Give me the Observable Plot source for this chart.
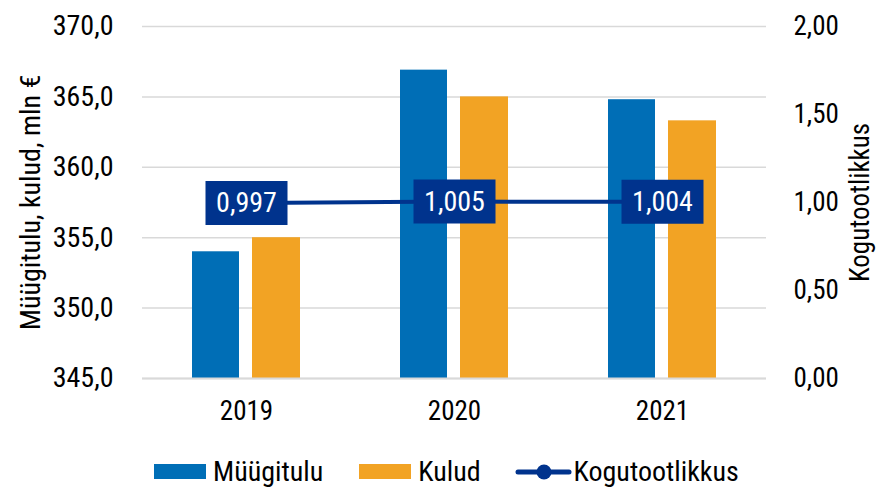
<!DOCTYPE html>
<html>
<head>
<meta charset="utf-8">
<script src="https://cdn.jsdelivr.net/npm/d3@7"></script>
<script src="https://cdn.jsdelivr.net/npm/@observablehq/plot@0.6"></script>
<style>
  html, body { margin: 0; padding: 0; background: #fff; }
  body { width: 885px; height: 489px; overflow: hidden; font-family: "Roboto Condensed", "Liberation Sans Narrow", "Roboto", sans-serif; }
  #chart svg { display: block; }
  #legend { display: flex; justify-content: flex-start; align-items: center; height: 35px; padding-top: 14px; padding-left: 154px; font-size: 28px; color: #000; }
  .item { display: flex; align-items: center; }
  .sw { width: 52px; height: 15px; margin-right: 7px; }
</style>
</head>
<body>
<div id="chart"></div>
<div id="legend"></div>
<script>
const years = ["2019", "2020", "2021"];
const myygitulu = [354.0, 366.9, 364.8];
const kulud = [355.0, 365.0, 363.3];
const kogutootlikkus = [0.997, 1.005, 1.004];
const leftTicks = [345, 350, 355, 360, 365, 370];
const rightTicks = [0, 0.5, 1.0, 1.5, 2.0];
const seriesNames = ["Müügitulu", "Kulud", "Kogutootlikkus"];
const colors = ["#006EB6", "#F2A324", "#00338D"];

const leftMin = 345, leftMax = 370, rightMax = 2;
const toLeft = v => leftMin + v * (leftMax - leftMin) / rightMax;

const loc = d3.formatLocale({decimal: ",", thousands: " ", grouping: [3], currency: ["", " €"]});
const f1 = loc.format(".1f"), f2 = loc.format(".2f"), f3 = loc.format(".3f");

const lineData = years.map((y, i) => ({year: y, v: kogutootlikkus[i], y: toLeft(kogutootlikkus[i])}));
const m = years.map((y, i) => ({year: y, value: myygitulu[i]}));
const k = years.map((y, i) => ({year: y, value: kulud[i]}));

const boxSymbol = { draw(ctx) { ctx.rect(-41, -22, 82, 44); } };

const fontFam = '"Roboto Condensed", "Liberation Sans Narrow", "Roboto", sans-serif';
const fs = 27;

const plot = Plot.plot({
  width: 885,
  height: 440,
  marginLeft: 142,
  marginRight: 119,
  marginTop: 26,
  marginBottom: 62,
  style: { fontFamily: fontFam, fontSize: fs + "px", color: "#000", background: "#fff" },
  x: { type: "band", domain: years, padding: 0 },
  y: { domain: [leftMin, leftMax] },
  marks: [
    Plot.ruleY(leftTicks, { stroke: "#d9d9d9", strokeWidth: 1.5 }),
    Plot.barY(m, { x: "year", y1: leftMin, y2: "value", fill: colors[0], insetLeft: 50, insetRight: 111 }),
    Plot.barY(k, { x: "year", y1: leftMin, y2: "value", fill: colors[1], insetLeft: 110, insetRight: 50 }),
    Plot.ruleY([leftMin], { stroke: "#d9d9d9", strokeWidth: 2 }),
    Plot.line(lineData, { x: "year", y: "y", stroke: colors[2], strokeWidth: 4 }),
    Plot.dot(lineData, { x: "year", y: "y", symbol: boxSymbol, fill: colors[2], stroke: "none", r: 5 }),
    Plot.text(lineData, { x: "year", y: "y", text: d => f3(d.v), fill: "#fff", fontSize: 28 }),
    Plot.axisX({ tickSize: 0, tickPadding: 22, label: null, fontSize: fs }),
    Plot.axisY(leftTicks, { anchor: "left", tickSize: 0, tickPadding: 29, tickFormat: f1, label: "Müügitulu, kulud, mln €", labelAnchor: "center", labelOffset: 122, labelArrow: "none", fontSize: 28 }),
    Plot.axisY(rightTicks.map(toLeft), { anchor: "right", tickSize: 0, tickPadding: 27, tickFormat: t => f2((t - leftMin) * rightMax / (leftMax - leftMin)), label: "Kogutootlikkus", labelAnchor: "center", labelOffset: 102, labelArrow: "none", fontSize: fs })
  ]
});
document.getElementById("chart").appendChild(plot);

const legend = d3.select("#legend");
const gaps = [36, 34, 0];
seriesNames.forEach((name, i) => {
  const it = legend.append("div").attr("class", "item").style("margin-right", gaps[i] + "px");
  if (i < 2) {
    it.append("div").attr("class", "sw").style("background", colors[i]);
  } else {
    const s = it.append("svg").attr("width", 57).attr("height", 18).style("margin-right", "2px");
    s.append("line").attr("x1", 3).attr("x2", 54).attr("y1", 9).attr("y2", 9).attr("stroke", colors[2]).attr("stroke-width", 5).attr("stroke-linecap", "round");
    s.append("circle").attr("cx", 29).attr("cy", 9).attr("r", 7.5).attr("fill", colors[2]);
  }
  it.append("span").text(name);
});
</script>
</body>
</html>
